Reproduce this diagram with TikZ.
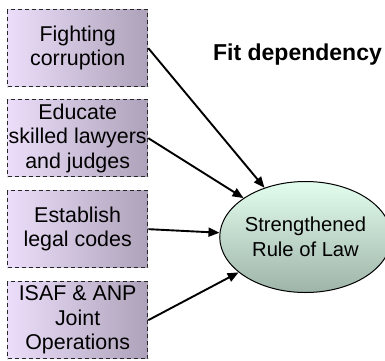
\documentclass[tikz,border=0pt]{standalone}
\usepackage{fontspec}
\setmainfont{Liberation Sans}
\usetikzlibrary{arrows.meta,shapes.geometric}
\definecolor{boxL}{RGB}{236,222,250}
\definecolor{boxR}{RGB}{174,162,186}
\definecolor{ellT}{RGB}{226,253,238}
\definecolor{ellB}{RGB}{158,180,168}
\begin{document}
\begin{tikzpicture}[x=1pt,y=-1pt,
  factor/.style={draw=black!85, dash pattern=on 4pt off 3pt, line width=1.3pt,
    left color=boxL, right color=boxR, minimum width=140pt, minimum height=77pt,
    inner sep=0pt, align=center, anchor=north west,
    font=\fontsize{21.4}{24.5}\selectfont},
  goal/.style={ellipse, draw, line width=1pt, top color=ellT, bottom color=ellB,
    minimum width=135pt, minimum height=111pt, inner sep=0pt, align=center,
    font=\fontsize{20.2}{25}\selectfont},
  dep/.style={-{Triangle[length=11pt,width=9pt]}, line width=1.9pt},
  caption/.style={font=\fontsize{23}{26}\selectfont\bfseries, anchor=base}]
\useasboundingbox (0,0) rectangle (385,360);

% contributing factors
\node[factor] (f1) at (7,9)   {Fighting\\corruption};
\node[factor] (f2) at (7,99)  {Educate\\skilled lawyers\\and judges};
\node[factor] (f3) at (7,190) {Establish\\legal codes};
\node[factor] (f4) at (7,281) {ISAF \& ANP\\Joint\\Operations};

% outcome
\node[goal] (goal) at (305.5,237) {Strengthened\\Rule of Law};

\node[caption] (title) at (297.5,60) {Fit dependency};

% dependencies
\draw[dep] (f1.east) -- (goal);
\draw[dep] (f2.east) -- (goal);
\draw[dep] (f3.east) -- (goal);
\draw[dep] (f4.east) -- (goal);
\end{tikzpicture}
\end{document}
